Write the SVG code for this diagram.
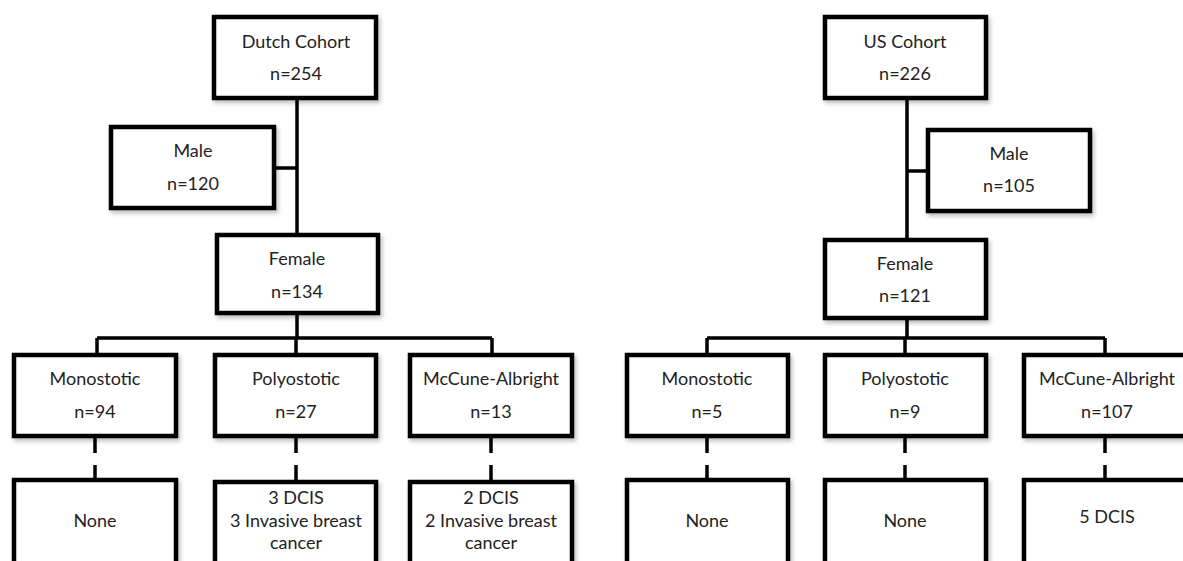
<svg xmlns="http://www.w3.org/2000/svg" width="1183" height="561" viewBox="0 0 1183 561">
<defs>
<filter id="sh" x="-10%" y="-10%" width="130%" height="130%">
<feDropShadow dx="2" dy="3" stdDeviation="2" flood-color="#000" flood-opacity="0.25"/>
</filter>
</defs>
<style>
.box{fill:#fff;stroke:#000;stroke-width:4.5;filter:url(#sh)}
.t{font-family:Lato,"Open Sans","Liberation Sans",sans-serif;font-size:18px;fill:#222;text-anchor:middle}
.c{fill:none;stroke:#000;stroke-width:3.5}
.d{fill:none;stroke:#000;stroke-width:3.5;stroke-dasharray:15 12}
</style>
<rect width="1183" height="561" fill="#fff"/>
<g id="connectors">
<path class="c" d="M297 100V233M276 168H297"/>
<path class="c" d="M297 315V338M97 338H492M97 338V353M296 338V353M492 338V353"/>
<path class="d" d="M95 438V478M296 438V480M491 438V480"/>
<path class="c" d="M907 100V238M907 171H926"/>
<path class="c" d="M907 320V338M707 338H1105M707 338V353M905 338V353M1105 338V353"/>
<path class="d" d="M707 438V478M905 438V478M1105 438V478"/>
</g>
<g id="dutch"><rect class="box" x="214" y="17" width="162" height="81"/><text class="t" x="296" y="48">Dutch Cohort</text><text class="t" x="296" y="80">n=254</text></g>
<g id="dmale"><rect class="box" x="111" y="127" width="163" height="81"/><text class="t" x="193" y="157">Male</text><text class="t" x="193" y="190">n=120</text></g>
<g id="dfemale"><rect class="box" x="217" y="235" width="161" height="78"/><text class="t" x="297" y="265">Female</text><text class="t" x="297" y="298">n=134</text></g>
<g id="dmono"><rect class="box" x="14" y="355" width="162" height="81"/><text class="t" x="95" y="385">Monostotic</text><text class="t" x="95" y="418">n=94</text></g>
<g id="dpoly"><rect class="box" x="215" y="355" width="161" height="81"/><text class="t" x="296" y="385">Polyostotic</text><text class="t" x="296" y="418">n=27</text></g>
<g id="dmca"><rect class="box" x="410" y="355" width="162" height="81"/><text class="t" x="491" y="385">McCune-Albright</text><text class="t" x="491" y="418">n=13</text></g>
<g id="dmono-out"><rect class="box" x="14" y="480" width="162" height="100"/><text class="t" x="95" y="527">None</text></g>
<g id="dpoly-out"><rect class="box" x="215" y="482" width="161" height="100"/><text class="t" x="296" y="504">3 DCIS</text><text class="t" x="296" y="527">3 Invasive breast</text><text class="t" x="296" y="549">cancer</text></g>
<g id="dmca-out"><rect class="box" x="410" y="482" width="162" height="100"/><text class="t" x="491" y="504">2 DCIS</text><text class="t" x="491" y="527">2 Invasive breast</text><text class="t" x="491" y="549">cancer</text></g>
<g id="us"><rect class="box" x="825" y="17" width="161" height="81"/><text class="t" x="905" y="48">US Cohort</text><text class="t" x="905" y="80">n=226</text></g>
<g id="umale"><rect class="box" x="928" y="130" width="162" height="81"/><text class="t" x="1009" y="160">Male</text><text class="t" x="1009" y="192">n=105</text></g>
<g id="ufemale"><rect class="box" x="825" y="240" width="161" height="78"/><text class="t" x="905" y="270">Female</text><text class="t" x="905" y="302">n=121</text></g>
<g id="umono"><rect class="box" x="627" y="355" width="161" height="81"/><text class="t" x="707" y="385">Monostotic</text><text class="t" x="707" y="418">n=5</text></g>
<g id="upoly"><rect class="box" x="825" y="355" width="161" height="81"/><text class="t" x="905" y="385">Polyostotic</text><text class="t" x="905" y="418">n=9</text></g>
<g id="umca"><rect class="box" x="1024" y="355" width="162" height="81"/><text class="t" x="1107" y="385">McCune-Albright</text><text class="t" x="1107" y="418">n=107</text></g>
<g id="umono-out"><rect class="box" x="627" y="480" width="161" height="100"/><text class="t" x="707" y="527">None</text></g>
<g id="upoly-out"><rect class="box" x="825" y="480" width="161" height="100"/><text class="t" x="905" y="527">None</text></g>
<g id="umca-out"><rect class="box" x="1024" y="480" width="162" height="100"/><text class="t" x="1107" y="523">5 DCIS</text></g>
</svg>
